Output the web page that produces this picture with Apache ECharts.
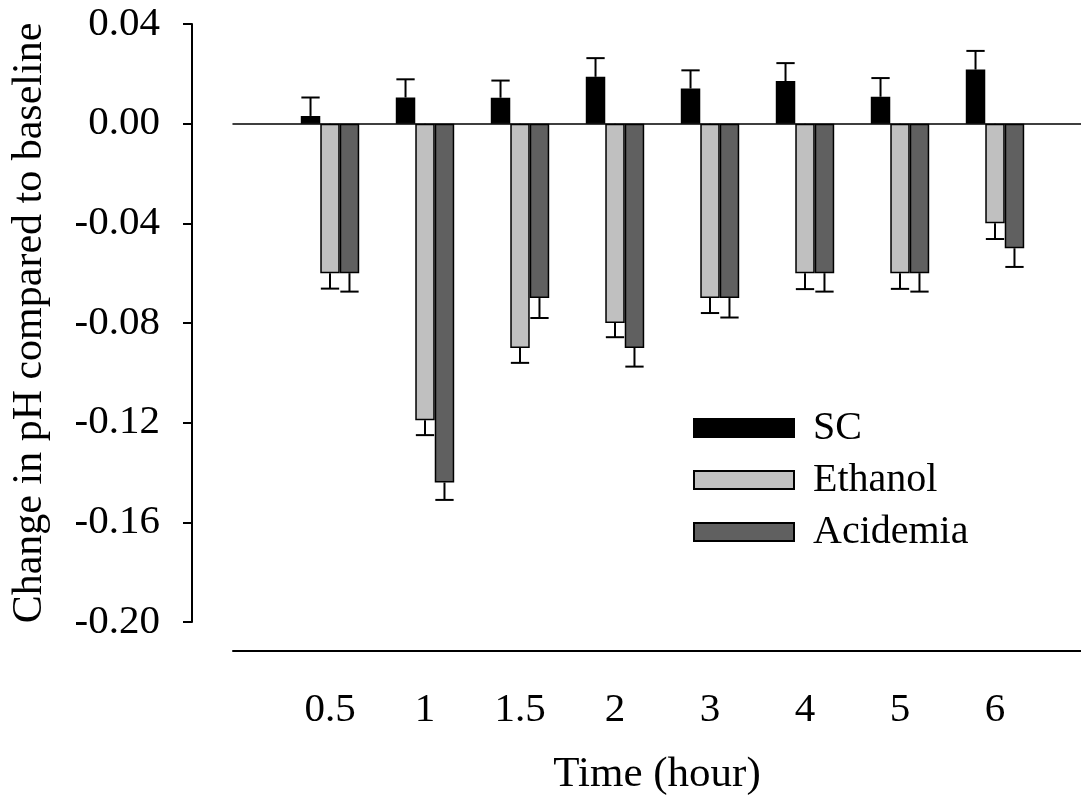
<!DOCTYPE html>
<html>
<head>
<meta charset="utf-8">
<script src="https://cdn.jsdelivr.net/npm/echarts@6/dist/echarts.min.js"></script>
<style>
html,body{margin:0;padding:0;background:#fff;}
#chart{width:1081px;height:798px;}
</style>
</head>
<body>
<div id="chart"></div>
<script>
const categories = ['0.5', '1', '1.5', '2', '3', '4', '5', '6'];
const seriesNames = ['SC', 'Ethanol', 'Acidemia'];
const scValues = [0.0031, 0.0105, 0.0104, 0.0188, 0.0141, 0.0171, 0.0108, 0.0217];
const scErrors = [0.0074, 0.0073, 0.0069, 0.0075, 0.0073, 0.0072, 0.0075, 0.0075];
const ethanolValues = [-0.060, -0.119, -0.090, -0.080, -0.070, -0.060, -0.060, -0.040];
const ethanolErrors = [0.0062, 0.0060, 0.0060, 0.0057, 0.0060, 0.0064, 0.0063, 0.0063];
const acidemiaValues = [-0.060, -0.144, -0.070, -0.090, -0.070, -0.060, -0.060, -0.050];
const acidemiaErrors = [0.0074, 0.0070, 0.0080, 0.0075, 0.0078, 0.0074, 0.0074, 0.0075];
const yMin = -0.20, yMax = 0.04, yInterval = 0.04;

const FONT = '"Liberation Serif", "Times New Roman", serif';
const colors = ['#000000', '#c0c0c0', '#606060'];
const BAR_FRAC = 0.205;

const chart = echarts.init(document.getElementById('chart'), null, {renderer: 'canvas'});

const valueSets = [scValues, ethanolValues, acidemiaValues];
const errorSets = [scErrors, ethanolErrors, acidemiaErrors];

const barSeries = seriesNames.map((name, k) => ({
  name: name,
  type: 'bar',
  xAxisIndex: 0,
  yAxisIndex: 0,
  data: valueSets[k],
  barWidth: (BAR_FRAC * 100) + '%',
  barGap: '0%',
  itemStyle: {color: colors[k], borderColor: '#000', borderWidth: 1.5},
  emphasis: {disabled: true},
  z: 3
}));

const errSeries = seriesNames.map((name, k) => ({
  name: name + '_err',
  type: 'custom',
  xAxisIndex: 0,
  yAxisIndex: 0,
  silent: true,
  z: 2,
  data: valueSets[k].map((v, i) => [i, v, errorSets[k][i]]),
  renderItem: function (params, api) {
    const i = api.value(0), v = api.value(1), e = api.value(2);
    const band = api.size([1, 0])[0];
    const bw = band * BAR_FRAC;
    const p0 = api.coord([i, v]);
    const sign = v >= 0 ? 1 : -1;
    const p1 = api.coord([i, v + sign * e]);
    const x = p0[0] + (k - 1) * bw;
    const half = bw * 0.47;
    const st = {stroke: '#000', lineWidth: 2};
    return {
      type: 'group',
      children: [
        {type: 'line', shape: {x1: x, y1: p0[1], x2: x, y2: p1[1]}, style: st},
        {type: 'line', shape: {x1: x - half, y1: p1[1], x2: x + half, y2: p1[1]}, style: st}
      ]
    };
  }
}));

const option = {
  animation: false,
  backgroundColor: '#fff',
  textStyle: {fontFamily: FONT},
  grid: [
    {left: 282.5, width: 760, top: 24, height: 598, containLabel: false, outerBoundsMode: 'none'},
    {left: 233, right: 0, top: 24, height: 598, containLabel: false, outerBoundsMode: 'none'}
  ],
  legend: {
    data: seriesNames,
    orient: 'vertical',
    left: 688,
    top: 403,
    itemWidth: 100,
    itemHeight: 18,
    itemGap: 12,
    icon: 'rect',
    itemStyle: {borderColor: '#000', borderWidth: 2},
    textStyle: {fontFamily: FONT, fontSize: 40, color: '#000', padding: [0, 0, 0, 14]},
    selectedMode: false
  },
  xAxis: [
    {
      type: 'category',
      gridIndex: 0,
      data: categories,
      position: 'bottom',
      offset: 29,
      axisLine: {show: false},
      axisTick: {show: true, alignWithLabel: true, length: 9, lineStyle: {color: '#000', width: 1.5}},
      axisLabel: {fontFamily: FONT, fontSize: 41, color: '#000', margin: 39},
      splitLine: {show: false}
    },
    {
      type: 'category',
      gridIndex: 1,
      data: [''],
      position: 'bottom',
      offset: 29,
      axisLine: {show: true, onZero: false, lineStyle: {color: '#000', width: 2}},
      axisTick: {show: false},
      axisLabel: {show: false},
      splitLine: {show: false},
      name: 'Time (hour)',
      nameLocation: 'middle',
      nameGap: 102,
      nameTextStyle: {fontFamily: FONT, fontSize: 43, color: '#000'}
    },
    {
      type: 'category',
      gridIndex: 1,
      data: [''],
      position: 'bottom',
      axisLine: {show: true, onZero: true, lineStyle: {color: '#000', width: 1.5}},
      axisTick: {show: false},
      axisLabel: {show: false},
      splitLine: {show: false}
    }
  ],
  yAxis: [
    {
      type: 'value',
      gridIndex: 0,
      min: yMin, max: yMax, interval: yInterval,
      show: false
    },
    {
      type: 'value',
      gridIndex: 1,
      min: yMin, max: yMax, interval: yInterval,
      position: 'left',
      offset: 41,
      axisLine: {show: true, onZero: false, lineStyle: {color: '#000', width: 2}},
      axisTick: {show: true, inside: false, length: 9, lineStyle: {color: '#000', width: 2}},
      axisLabel: {
        fontFamily: FONT, fontSize: 41, color: '#000', margin: 32,
        formatter: v => v.toFixed(2)
      },
      splitLine: {show: false},
      name: 'Change in pH compared to baseline',
      nameLocation: 'middle',
      nameGap: 141,
      nameRotate: 90,
      nameTextStyle: {fontFamily: FONT, fontSize: 42, color: '#000'}
    }
  ],
  series: barSeries.concat(errSeries)
};

chart.setOption(option);
</script>
</body>
</html>
